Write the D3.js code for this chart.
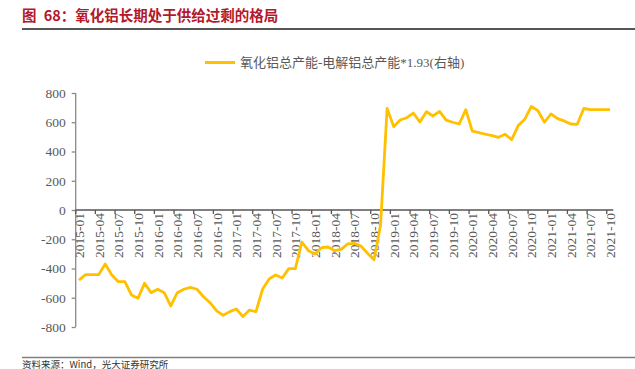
<!DOCTYPE html>
<html><head><meta charset="utf-8">
<script src="https://cdn.jsdelivr.net/npm/d3@7"></script>
<style>
html,body{margin:0;padding:0;background:#fff;}
svg{display:block;}
</style></head>
<body>
<svg id="chart" width="635" height="369"></svg>
<script>
const titleText = "图\u200268：氧化铝长期处于供给过剩的格局";
const legendLabel = "氧化铝总产能-电解铝总产能*1.93(右轴)";
const sourceText = "资料来源：Wind，光大证券研究所";

const months = [
"2015-01","2015-02","2015-03","2015-04","2015-05","2015-06","2015-07","2015-08","2015-09","2015-10","2015-11","2015-12",
"2016-01","2016-02","2016-03","2016-04","2016-05","2016-06","2016-07","2016-08","2016-09","2016-10","2016-11","2016-12",
"2017-01","2017-02","2017-03","2017-04","2017-05","2017-06","2017-07","2017-08","2017-09","2017-10","2017-11","2017-12",
"2018-01","2018-02","2018-03","2018-04","2018-05","2018-06","2018-07","2018-08","2018-09","2018-10","2018-11","2018-12",
"2019-01","2019-02","2019-03","2019-04","2019-05","2019-06","2019-07","2019-08","2019-09","2019-10","2019-11","2019-12",
"2020-01","2020-02","2020-03","2020-04","2020-05","2020-06","2020-07","2020-08","2020-09","2020-10","2020-11","2020-12",
"2021-01","2021-02","2021-03","2021-04","2021-05","2021-06","2021-07","2021-08","2021-09","2021-10"];

const surplus = [
-479,-442,-442,-442,-369,-444,-490,-490,-581,-604,-501,-565,
-542,-565,-656,-565,-542,-529,-542,-593,-634,-690,-720,-695,
-677,-729,-684,-695,-542,-472,-444,-465,-401,-401,-219,-278,
-301,-258,-253,-278,-269,-231,-228,-246,-296,-340,-103,695,
570,615,631,663,602,672,643,674,615,600,588,686,
539,529,518,508,497,518,481,577,621,708,679,600,
657,625,609,588,586,694,686,686,686,686];

const yTicks = [-800,-600,-400,-200,0,200,400,600,800];
const xTickLabels = months.filter((m,i)=>i%3===0);

const svg = d3.select("#chart");
const serif = "'Liberation Serif','Times New Roman','Noto Sans CJK SC',serif";
const labelColor = "#595959";

// title
svg.append("text").attr("x",22).attr("y",21)
  .attr("fill","#b3182b").attr("font-family","'Noto Sans CJK SC',sans-serif")
  .attr("font-weight","bold").attr("font-size","14.5px").text(titleText);
svg.append("line").attr("x1",22).attr("x2",635).attr("y1",29).attr("y2",29)
  .attr("stroke","#555").attr("stroke-width",2);

// bottom rule + source
svg.append("line").attr("x1",22).attr("x2",635).attr("y1",357.5).attr("y2",357.5)
  .attr("stroke","#808080").attr("stroke-width",1.5);
svg.append("text").attr("x",22).attr("y",367.5)
  .attr("fill","#333").attr("font-family","'Noto Sans CJK SC',sans-serif")
  .attr("font-size","9.5px").text(sourceText);

// scales
const x = d3.scaleBand().domain(months).range([75.7, 613.3]).paddingInner(0).paddingOuter(0);
const bw = x.bandwidth();
const cx = m => x(m) + bw/2;
const y = d3.scaleLinear().domain([-800,800]).range([327,93]);

// y axis
const yAxis = svg.append("g").attr("transform","translate(75.7,0)")
  .call(d3.axisLeft(y).tickValues(yTicks).tickSize(4).tickPadding(6).tickFormat(d=>String(d)));
yAxis.select(".domain").attr("stroke","#8a8a8a").attr("stroke-width",1.3).attr("d","M0,93V327");
yAxis.selectAll(".tick line").attr("stroke","#8a8a8a").attr("stroke-width",1.3);
yAxis.selectAll(".tick text").attr("fill",labelColor).attr("font-family",serif).attr("font-size","13.5px");

// x axis along zero
const xg = svg.append("g").attr("transform",`translate(0,${y(0)})`);
xg.append("line").attr("x1",75.7).attr("x2",613.3).attr("y1",0).attr("y2",0)
  .attr("stroke","#555").attr("stroke-width",1.5);
xg.selectAll("line.tk").data(xTickLabels).join("line").attr("class","tk")
  .attr("x1",d=>x(d)).attr("x2",d=>x(d)).attr("y1",0).attr("y2",4)
  .attr("stroke","#555").attr("stroke-width",1.3);
xg.selectAll("text.tl").data(xTickLabels).join("text").attr("class","tl")
  .attr("transform",d=>`translate(${cx(d)},3) rotate(-90)`)
  .attr("text-anchor","end").attr("dy","0.36em")
  .attr("fill",labelColor).attr("font-family",serif).attr("font-size","13.5px")
  .text(d=>d);

// line
const line = d3.line().x((d,i)=>cx(months[i])).y(d=>y(d));
svg.append("path").datum(surplus).attr("d",line)
  .attr("fill","none").attr("stroke","#FFC000").attr("stroke-width",2.8)
  .attr("stroke-linejoin","round");

// legend
svg.append("line").attr("x1",205).attr("x2",235).attr("y1",62.5).attr("y2",62.5)
  .attr("stroke","#FFC000").attr("stroke-width",3);
svg.append("text").attr("x",240).attr("y",67)
  .attr("fill",labelColor).attr("font-family",serif).attr("font-size","13px")
  .text(legendLabel);
</script>
</body></html>
